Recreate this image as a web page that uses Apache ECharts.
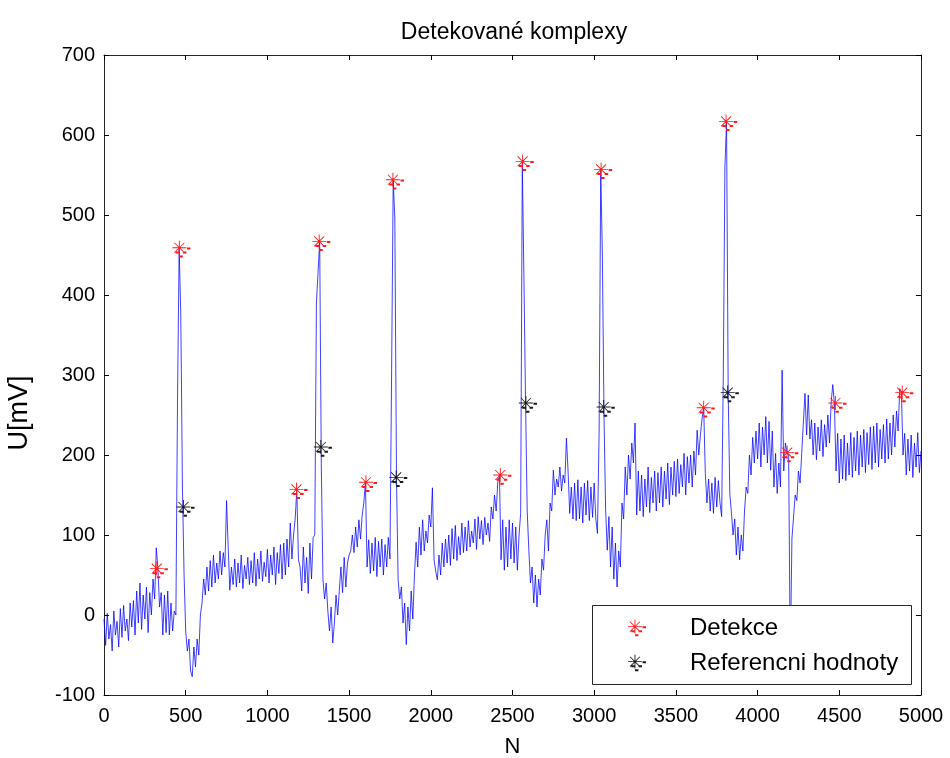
<!DOCTYPE html>
<html>
<head>
<meta charset="utf-8">
<script src="https://cdn.jsdelivr.net/npm/echarts@6/dist/echarts.min.js"></script>
<style>
  html, body { margin: 0; padding: 0; background: #ffffff; overflow: hidden; }
  #chart { width: 950px; height: 758px; }
</style>
</head>
<body>
<div id="chart"></div>
<script>
// ECG record: one value every `sampleStep` samples, starting at sample 0
const sampleStep = 10;
const signal = [
  -5, -38, 2, -30, -12, -45, 5, -25, -8, -40,
  8, -28, 12, -20, -5, -32, 15, -15, 18, -25,
  30, -10, 40, -18, 25, -5, 35, -22, 28, 0,
  45, 20, 84, 58, 10, 28, -25, 25, -22, 30,
  -25, 15, -20, 5, 0, 270, 459, 375, 160, 50,
  -20, -45, -30, -70, -77, -40, -65, -30, -50, 0,
  15, 45, 25, 60, 30, 68, 35, 75, 40, 65,
  45, 80, 50, 78, 60, 143, 85, 31, 60, 38,
  70, 35, 65, 40, 75, 33, 62, 45, 72, 38,
  68, 40, 78, 36, 70, 45, 80, 42, 66, 48,
  82, 40, 75, 50, 85, 38, 78, 52, 88, 45,
  90, 50, 95, 60, 115, 70, 100, 120, 157, 69,
  60, 30, 85, 40, 72, 27, 90, 45, 97, 100,
  390, 392, 467, 185, 44, 20, 40, 5, -20, 10,
  -35, -10, 25, 0, 30, 60, 28, 72, 35, 65,
  75, 80, 100, 78, 110, 85, 119, 95, 125, 140,
  166, 60, 94, 52, 90, 55, 97, 48, 92, 60,
  95, 50, 88, 60, 97, 70, 300, 544, 495, 172,
  44, 20, 35, -10, 15, -37, 10, -20, 30, -5,
  50, 91, 60, 110, 75, 119, 80, 105, 90, 125,
  110, 159, 69, 55, 44, 75, 50, 90, 60, 95,
  65, 100, 62, 108, 70, 112, 68, 98, 75, 115,
  78, 110, 80, 118, 85, 105, 90, 120, 82, 123,
  95, 118, 88, 122, 100, 115, 92, 135, 120, 150,
  130, 166, 175, 69, 119, 56, 110, 60, 119, 70,
  115, 65, 110, 56, 100, 127, 567, 420, 265, 130,
  81, 40, 60, 15, 50, 10, 45, 25, 70, 56,
  100, 119, 80, 140, 130, 181, 150, 170, 160, 185,
  155, 175, 165, 221, 180, 127, 160, 120, 165, 118,
  169, 120, 160, 115, 165, 125, 168, 118, 160, 122,
  165, 120, 102, 227, 557, 450, 250, 131, 81, 123,
  60, 110, 45, 90, 35, 80, 60, 140, 120, 185,
  150, 200, 170, 215, 190, 240, 125, 180, 130, 175,
  123, 170, 135, 185, 128, 172, 140, 180, 130, 178,
  140, 185, 135, 180, 145, 190, 138, 185, 150, 192,
  148, 195, 152, 188, 160, 202, 150, 198, 165, 200,
  160, 205, 175, 231, 200, 225, 245, 260, 177, 140,
  170, 130, 165, 127, 172, 135, 168, 140, 123, 300,
  560, 617, 278, 152, 127, 100, 120, 75, 110, 69,
  100, 80, 130, 160, 152, 200, 175, 222, 190, 230,
  195, 240, 185, 235, 200, 248, 190, 242, 181, 230,
  160, 202, 152, 190, 160, 306, 180, 215, 203, 200,
  -60, 95, 97, 150, 143, 180, 165, 202, 240, 277,
  225, 275, 220, 244, 200, 240, 194, 235, 205, 244,
  198, 238, 210, 250, 215, 265, 288, 265, 180, 227,
  165, 220, 170, 225, 168, 215, 175, 228, 172, 222,
  180, 230, 175, 225, 185, 232, 178, 228, 188, 235,
  182, 236, 190, 240, 185, 232, 195, 238, 190, 245,
  195, 240, 200, 250, 210, 255, 230, 283, 278, 200,
  227, 175, 220, 180, 225, 172, 215, 185, 228, 178,
  205
];

// Detected complexes (sample index, amplitude in mV)
const detekceN = [323, 461, 1178, 1317, 1603, 1768, 2425, 2562, 3042, 3670, 3807, 4181, 4476, 4885];
const detekceU = [58, 459, 157, 467, 166, 544, 175, 567, 557, 259, 617, 203, 265, 278];

// Reference annotations (sample index, amplitude in mV)
const referenceN = [486, 1327, 1788, 2582, 3058, 3817];
const referenceU = [135, 210, 172, 265, 260, 278];

// Axis ticks
const xTicks = { min: 0, max: 5000, step: 500 };
const yTicks = { min: -100, max: 700, step: 100 };

const FONT = '"Liberation Sans", Arial, Helvetica, sans-serif';

// Asterisk marker with its trailing dash marks, drawn as filled shapes
const starPath = 'path://' +
  'M-7 -0.45H7V0.45H-7Z' +
  'M-0.45 -7H0.45V7H-0.45Z' +
  'M-5.3 -4.7L-4.7 -5.3L5.3 4.7L4.7 5.3Z' +
  'M4.7 -5.3L5.3 -4.7L-4.7 5.3L-5.3 4.7Z' +
  'M7.6 -0.3H11.1V1.7H7.6Z' +
  'M3.6 3.7H7.1V5.7H3.6Z' +
  'M-3.7 3.7H-0.3V5.7H-3.7Z' +
  'M0 7.7H3.5V9.7H0Z';
const starSize = [18.1, 16.7];
const starOffset = [2.05, 1.35];

const signalData = signal.map((v, i) => [i * sampleStep, v]);
const detekceData = detekceN.map((n, i) => [n, detekceU[i]]);
const referenceData = referenceN.map((n, i) => [n, referenceU[i]]);

const axisColor = '#262626';

function valueAxis(range, extra) {
  return Object.assign({
    type: 'value',
    min: range.min,
    max: range.max,
    interval: range.step,
    splitLine: { show: false },
    axisLine: { show: true, onZero: false, lineStyle: { color: axisColor, width: 1 } },
    axisTick: { show: true, inside: true, length: 5, lineStyle: { color: '#000', width: 1 } },
    axisLabel: { show: false }
  }, extra);
}

function tickLabel(margin) {
  return {
    show: true,
    fontFamily: FONT,
    fontSize: 20,
    color: '#000',
    margin: margin,
    formatter: (v) => String(v)
  };
}

const chart = echarts.init(document.getElementById('chart'), null, {
  renderer: 'canvas', width: 950, height: 758
});

chart.setOption({
  animation: false,
  backgroundColor: '#ffffff',
  textStyle: { fontFamily: FONT },
  title: {
    text: 'Detekované komplexy',
    left: 509,
    top: 16,
    textAlign: 'center',
    textStyle: { fontFamily: FONT, fontSize: 23, fontWeight: 'normal', color: '#000' }
  },
  grid: {
    left: 104, top: 55, width: 817, height: 640,
    containLabel: false,
    outerBoundsMode: 'none'
  },
  xAxis: [
    valueAxis(xTicks, {
      position: 'bottom',
      axisLabel: tickLabel(11),
      name: 'N',
      nameLocation: 'middle',
      nameGap: 41,
      nameTextStyle: { fontFamily: FONT, fontSize: 22, color: '#000' }
    }),
    valueAxis(xTicks, { position: 'top' })
  ],
  yAxis: [
    valueAxis(yTicks, { position: 'left', axisLabel: tickLabel(9) }),
    valueAxis(yTicks, { position: 'right' })
  ],
  legend: {
    orient: 'vertical',
    left: 628,
    top: 616,
    padding: 0,
    itemGap: 11,
    itemWidth: 18,
    itemHeight: 17,
    data: ['Detekce', 'Referencni hodnoty'],
    textStyle: { fontFamily: FONT, fontSize: 24, lineHeight: 24, color: '#000', padding: [0, 0, 0, 39] },
    z: 10
  },
  graphic: [
    {
      type: 'rect',
      z: 8,
      silent: true,
      shape: { x: 592.5, y: 605.5, width: 319, height: 79 },
      style: { fill: '#ffffff', stroke: axisColor, lineWidth: 1 }
    },
    {
      // vertical axis title
      type: 'text',
      z: 8,
      silent: true,
      x: 20,
      y: 413,
      rotation: Math.PI / 2,
      style: {
        text: 'U[mV]',
        fontFamily: FONT,
        fontSize: 27,
        fill: '#000',
        align: 'center',
        verticalAlign: 'middle'
      }
    }
  ],
  series: [
    {
      name: 'signal',
      type: 'line',
      xAxisIndex: 0,
      yAxisIndex: 0,
      data: signalData,
      showSymbol: false,
      symbol: 'none',
      silent: true,
      lineStyle: { color: '#0000ff', width: 1, opacity: 0.75 },
      z: 2
    },
    {
      name: 'Detekce',
      type: 'scatter',
      data: detekceData,
      symbol: starPath,
      symbolSize: starSize,
      symbolOffset: starOffset,
      itemStyle: { color: '#ff1a1a', opacity: 1 },
      z: 4
    },
    {
      name: 'Referencni hodnoty',
      type: 'scatter',
      data: referenceData,
      symbol: starPath,
      symbolSize: starSize,
      symbolOffset: starOffset,
      itemStyle: { color: '#1a1a1a', opacity: 1 },
      z: 4
    }
  ]
});
</script>
</body>
</html>
